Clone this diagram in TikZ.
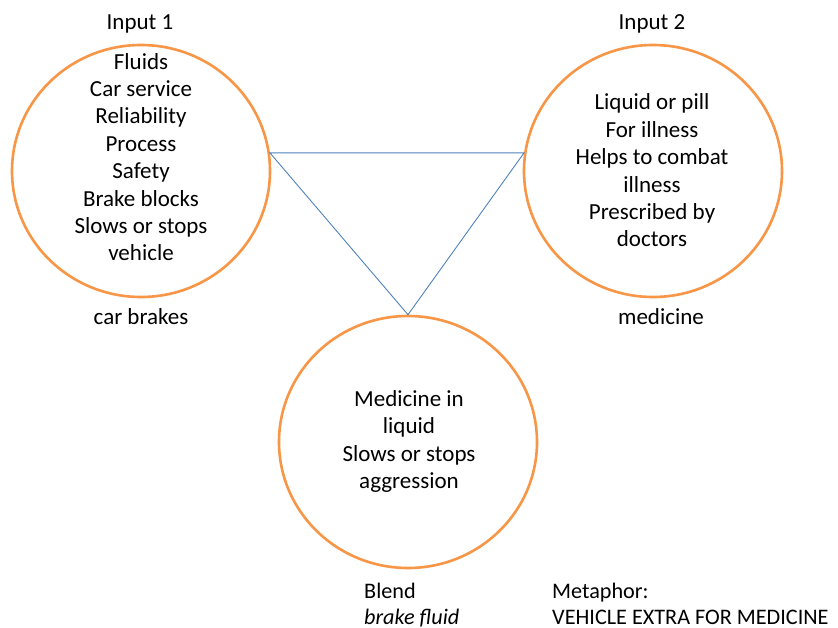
\documentclass[tikz,border=0pt]{standalone}
\usepackage{fontspec}
\setmainfont{Carlito}
\usepackage{xcolor}
\usetikzlibrary{shapes.geometric}
\definecolor{blendorange}{RGB}{247,150,70}
\definecolor{linkblue}{RGB}{79,129,189}

\begin{document}
\begin{tikzpicture}[x=1pt, y=-1pt,
  space/.style={draw=blendorange, line width=2.6pt, ellipse, minimum width=258pt, minimum height=252pt, inner sep=0pt},
  lines/.style={align=center, font=\fontsize{23}{27.4}\selectfont, inner sep=0pt},
  tag/.style={font=\fontsize{23}{26}\selectfont, inner sep=0pt},
  note/.style={anchor=base west, font=\fontsize{22.2}{26}\selectfont, inner sep=0pt},
  link/.style={draw=linkblue, line width=0.9pt}]
\useasboundingbox (0,0) rectangle (838,628);
% mental spaces
\node[space] (in1) at (141,171) {};
\node[space] (in2) at (653,171) {};
\node[space] (blend) at (408,442) {};
% contents
\node[lines] (in1text) at (141,157) {Fluids\\Car service\\Reliability\\Process\\Safety\\Brake blocks\\Slows or stops\\vehicle};
\node[lines] (in2text) at (652,170.5) {Liquid or pill\\For illness\\Helps to combat\\illness\\Prescribed by\\doctors};
\node[lines] (blendtext) at (409,441.5) {Medicine in\\liquid\\Slows or stops\\aggression};
% labels
\node[tag] (in1title) at (140,24) {Input 1};
\node[tag] (in2title) at (652,24) {Input 2};
\node[tag] (in1name) at (141,317) {car brakes};
\node[tag] (in2name) at (661,317) {medicine};
\node[note] (blendname) at (364,598) {Blend};
\node[note] (blendterm) at (364,624) {\textit{brake fluid}};
\node[note] (metaphor) at (552,598) {Metaphor:};
\node[note] (metaterm) at (552,624) {VEHICLE EXTRA FOR MEDICINE};
% triangle
\coordinate (tl) at (in1.8);
\coordinate (tr) at (in2.172);
\draw[link] (tl) -- (tr) -- (blend.north) -- cycle;
\end{tikzpicture}
\end{document}
